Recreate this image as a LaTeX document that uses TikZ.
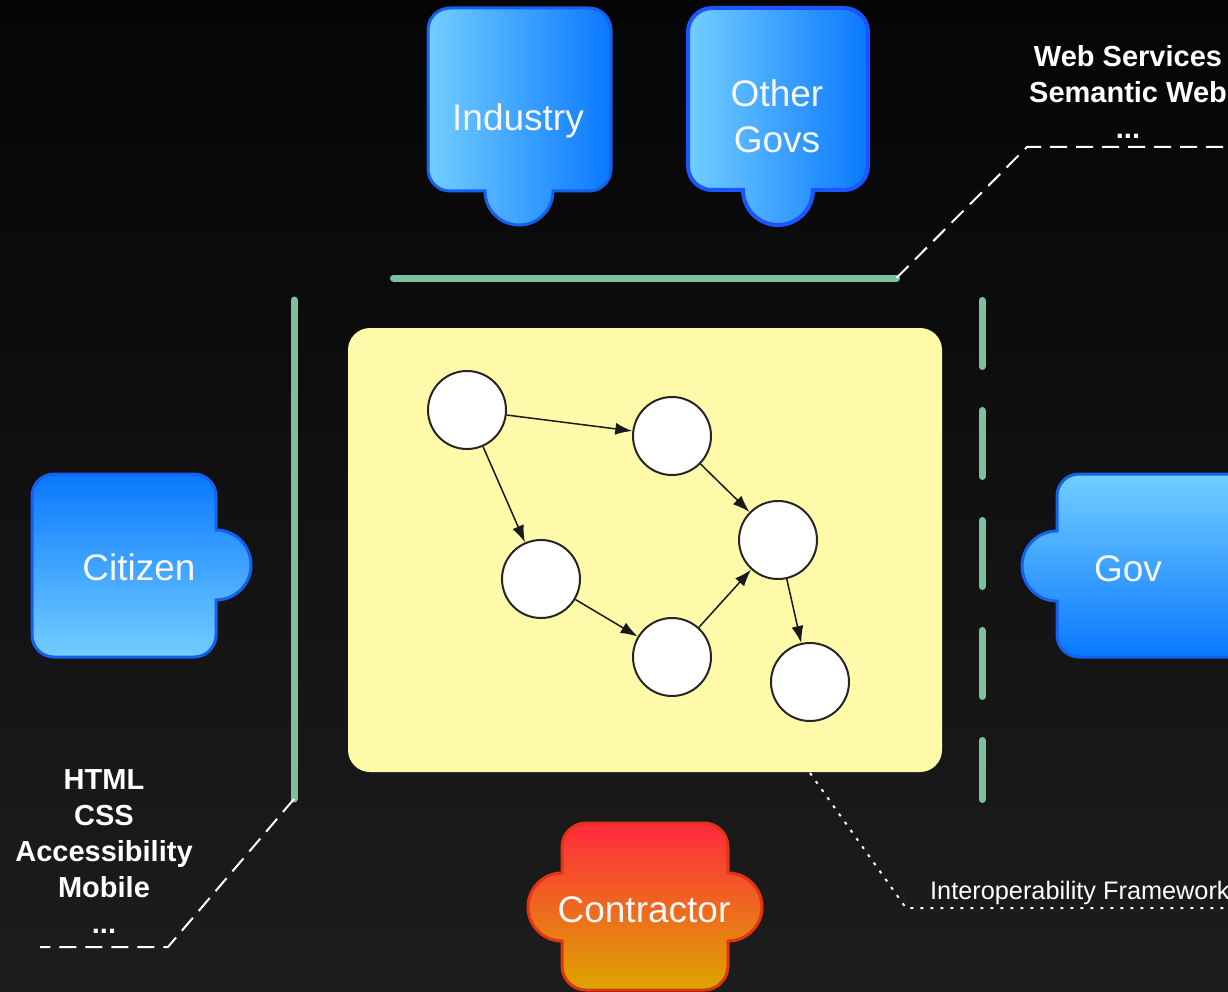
\documentclass[tikz,border=0pt]{standalone}
\usepackage{fontspec}
\setmainfont{Liberation Sans}
\usetikzlibrary{arrows.meta}
\definecolor{bgtop}{HTML}{050505}
\definecolor{bgbot}{HTML}{1D1D1D}
\definecolor{grn}{HTML}{7CC09F}
\definecolor{ylw}{HTML}{FFFAAA}
\definecolor{blL}{HTML}{72CEFF}
\definecolor{blD}{HTML}{0A78FF}
\definecolor{blB}{HTML}{1660F0}
\definecolor{blB2}{HTML}{1A55FF}
\definecolor{crR}{HTML}{FF2A3E}
\definecolor{crM}{HTML}{EE6A26}
\definecolor{crY}{HTML}{DDA600}
\definecolor{crB}{HTML}{E23410}
\begin{document}
\begin{tikzpicture}[x=1pt,y=-1pt,
  piece/.style={draw=blB, line width=3pt},
  plabel/.style={text=white!94!gray, font=\fontsize{37}{46}\selectfont, align=center, inner sep=0pt},
  circ/.style={circle, draw=black!85, fill=white, line width=2pt, minimum size=78pt, inner sep=0pt},
  arr/.style={-{Latex[length=17pt,width=12pt]}, line width=1.5pt, black!90},
  grnline/.style={grn, line width=7pt, line cap=round},
  wdash/.style={white, line width=2pt, dash pattern=on 17pt off 9pt},
  wdot/.style={white, line width=2pt, dash pattern=on 3pt off 7pt},
  note/.style={text=white, font=\bfseries\fontsize{29}{36}\selectfont, align=center, inner sep=0pt}
]
\useasboundingbox (0,0) rectangle (1228,992);
\fill[top color=bgtop, bottom color=bgbot] (0,0) rectangle (1228,992);

% green separators
\draw[grnline] (393.5,278) coordinate (gt1) -- (896.5,278) coordinate (gt2);
\draw[grnline] (294,300) coordinate (gl1) -- (294,799) coordinate (gl2);
\draw[grnline, dash pattern=on 66pt off 44pt] (982,300.5) coordinate (gr1) -- (982,799.5) coordinate (gr2);

% leader lines
\coordinate (tr1) at (1027,147);
\coordinate (tr2) at (1232,147);
\draw[wdash] (gt2) -- (tr1) -- (tr2);
\coordinate (bl1) at (168,947);
\coordinate (bl2) at (40,947);
\draw[wdash] (gl2) -- (bl1) -- (bl2);
\coordinate (dt0) at (810,773);
\coordinate (dt1) at (906,908);
\coordinate (dt2) at (1232,908);
\draw[wdot] (dt0) -- (dt1) -- (dt2);

% central framework box
\node[fill=ylw, rounded corners=22pt, minimum width=594pt, minimum height=444pt, inner sep=0pt] (frame) at (645,550) {};

\node[circ] (A) at (467,410) {};
\node[circ] (B) at (672,436) {};
\node[circ] (C) at (541,579) {};
\node[circ] (D) at (778,540) {};
\node[circ] (E) at (672,657) {};
\node[circ] (F) at (810,682) {};
\draw[arr] (A) -- (B);
\draw[arr] (A) -- (C);
\draw[arr] (B) -- (D);
\draw[arr] (C) -- (E);
\draw[arr] (E) -- (D);
\draw[arr] (D) -- (F);

% Industry
\draw[piece, left color=blL, right color=blD]
  (428,30) arc[start angle=180,end angle=90,radius=22pt] -- (589,8)
  arc[start angle=90,end angle=0,radius=22pt] -- (611,169)
  arc[start angle=0,end angle=-90,radius=22pt] -- (553,191)
  arc[start angle=0,end angle=-180,radius=34pt] -- (450,191)
  arc[start angle=-90,end angle=-180,radius=22pt] -- cycle;
\node[plabel, anchor=base] (industry) at (518,131) {Industry};

% Other Govs
\draw[piece, draw=blB2, line width=4pt, left color=blL, right color=blD]
  (688,32) arc[start angle=180,end angle=90,radius=24pt] -- (844,8)
  arc[start angle=90,end angle=0,radius=24pt] -- (868,166)
  arc[start angle=0,end angle=-90,radius=24pt] -- (813,190)
  arc[start angle=0,end angle=-180,radius=35pt] -- (712,190)
  arc[start angle=-90,end angle=-180,radius=24pt] -- cycle;
\node[plabel, anchor=north] (othergovs) at (777,79) {Other\\Govs};

% Citizen
\draw[piece, top color=blD, bottom color=blL]
  (32,496) arc[start angle=180,end angle=90,radius=22pt] -- (194,474)
  arc[start angle=90,end angle=0,radius=22pt] -- (216,530)
  arc[start angle=90,end angle=-90,radius=35pt] -- (216,635)
  arc[start angle=0,end angle=-90,radius=22pt] -- (54,657)
  arc[start angle=-90,end angle=-180,radius=22pt] -- cycle;
\node[plabel, anchor=base] (citizen) at (139,580) {Citizen};

% Gov
\draw[piece, top color=blL, bottom color=blD]
  (1057,496) arc[start angle=180,end angle=90,radius=22pt] -- (1240,474)
  arc[start angle=90,end angle=0,radius=22pt] -- (1262,635)
  arc[start angle=0,end angle=-90,radius=22pt] -- (1079,657)
  arc[start angle=-90,end angle=-180,radius=22pt] -- (1057,601)
  arc[start angle=-90,end angle=-270,radius=35pt] -- cycle;
\node[plabel, anchor=base] (gov) at (1128,581) {Gov};

% Contractor
\draw[piece, draw=crB, top color=crR, middle color=crM, bottom color=crY]
  (562,847) arc[start angle=180,end angle=90,radius=24pt] -- (704,823)
  arc[start angle=90,end angle=0,radius=24pt] -- (728,873)
  arc[start angle=90,end angle=-90,radius=34pt] -- (728,966)
  arc[start angle=0,end angle=-90,radius=24pt] -- (586,990)
  arc[start angle=-90,end angle=-180,radius=24pt] -- (562,941)
  arc[start angle=-90,end angle=-270,radius=34pt] -- cycle;
\node[plabel, anchor=base] (contractor) at (644,922) {Contractor};

% notes
\node[note, anchor=north] (webnote) at (1128,45) {Web Services\\Semantic Web\\...};
\node[note, anchor=north] (htmlnote) at (104,769) {HTML\\CSS\\Accessibility\\Mobile\\...};
\node[text=white, font=\fontsize{25.3}{30}\selectfont, anchor=base west, inner sep=0pt] (iop) at (930,899) {Interoperability Framework};
\end{tikzpicture}
\end{document}
